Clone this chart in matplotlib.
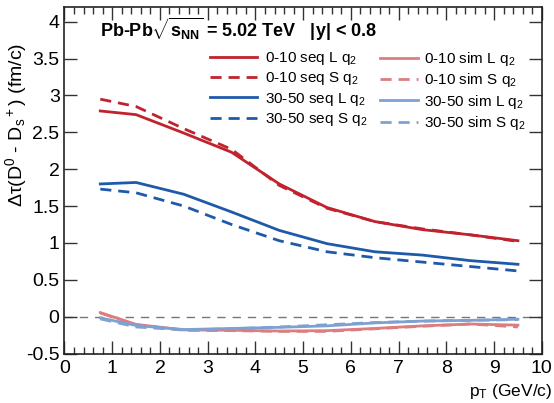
import matplotlib.pyplot as plt
from matplotlib.ticker import MultipleLocator, FuncFormatter

plt.rcParams['font.family'] = ['Liberation Sans', 'DejaVu Sans']
plt.rcParams['mathtext.fontset'] = 'custom'
plt.rcParams['mathtext.rm'] = 'Liberation Sans'
plt.rcParams['mathtext.it'] = 'Liberation Sans:italic'
plt.rcParams['mathtext.bf'] = 'Liberation Sans:bold'

# pT bin centres
pt = [0.75, 1.5, 2.5, 3.5, 4.5, 5.5, 6.5, 7.5, 8.5, 9.5]

seq_010_L = [2.79, 2.74, 2.49, 2.23, 1.80, 1.48, 1.29, 1.18, 1.11, 1.03]
seq_010_S = [2.95, 2.85, 2.55, 2.27, 1.78, 1.47, 1.29, 1.19, 1.11, 1.02]
seq_3050_L = [1.80, 1.82, 1.66, 1.42, 1.17, 0.99, 0.88, 0.835, 0.76, 0.71]
seq_3050_S = [1.73, 1.68, 1.50, 1.25, 1.03, 0.88, 0.80, 0.74, 0.68, 0.62]

sim_010_L = [0.055, -0.105, -0.18, -0.185, -0.195, -0.19, -0.16, -0.125, -0.10, -0.115]
sim_010_S = [0.05, -0.11, -0.185, -0.19, -0.20, -0.20, -0.165, -0.13, -0.10, -0.14]
sim_3050_L = [-0.016, -0.12, -0.175, -0.16, -0.145, -0.125, -0.085, -0.06, -0.05, -0.035]
sim_3050_S = [-0.03, -0.14, -0.18, -0.165, -0.14, -0.11, -0.08, -0.06, -0.05, -0.04]

red = '#c0232d'
blue = '#1f5aaa'
red_l = '#dd7d80'
blue_l = '#7fa1d2'
dash = (0, (4, 2.5))

fig = plt.figure(figsize=(5.54, 4.03), dpi=100)
ax = fig.add_axes([0.1164, 0.1228, 0.8616, 0.8598])

ax.axhline(0, color='#777777', lw=1, ls=(0, (6, 5)), zorder=1)

sim = []
sim += ax.plot(pt, sim_010_L, color=red_l, lw=2, label='0-10 sim L q$_2$')
sim += ax.plot(pt, sim_010_S, color=red_l, lw=2, ls=dash, label='0-10 sim S q$_2$')
sim += ax.plot(pt, sim_3050_L, color=blue_l, lw=2, label='30-50 sim L q$_2$')
sim += ax.plot(pt, sim_3050_S, color=blue_l, lw=2, ls=dash, label='30-50 sim S q$_2$')

seq = []
seq += ax.plot(pt, seq_010_L, color=red, lw=2, label='0-10 seq L q$_2$')
seq += ax.plot(pt, seq_010_S, color=red, lw=2, ls=dash, label='0-10 seq S q$_2$')
seq += ax.plot(pt, seq_3050_L, color=blue, lw=2, label='30-50 seq L q$_2$')
seq += ax.plot(pt, seq_3050_S, color=blue, lw=2, ls=dash, label='30-50 seq S q$_2$')

ax.set_xlim(0, 10)
ax.set_ylim(-0.5, 4.2)
ax.xaxis.set_major_locator(MultipleLocator(1))
ax.xaxis.set_minor_locator(MultipleLocator(0.2))
ax.yaxis.set_major_locator(MultipleLocator(0.5))
fmt = FuncFormatter(lambda v, p: '%g' % v)
ax.xaxis.set_major_formatter(fmt)
ax.yaxis.set_major_formatter(fmt)
ax.tick_params(which='both', direction='in', top=True, right=True,
               labelsize=14, width=1, color='#333333')
ax.tick_params(which='major', length=9.5)
ax.tick_params(which='minor', length=5)
ax.tick_params(axis='x', which='major', pad=5)
ax.tick_params(axis='y', which='major', pad=3.5)
for s in ax.spines.values():
    s.set_linewidth(1.2)
    s.set_color('#222222')

ax.set_xlabel('p$_{\\rm T}$ (GeV/c)', fontsize=12.5, ha='right')
ax.xaxis.set_label_coords(1.023, -0.083)
# y title placed in figure coordinates (ROOT style, near the top)
fig.text(0.006, 0.893, 'Δτ(D$^0$ - D$_{\\rm s}$$^+$) (fm/c)', fontsize=14,
         rotation=90, ha='left', va='top')

ax.text(0.074, 0.914,
        r'Pb-Pb$\sqrt{\mathbf{s}_{\mathbf{NN}}}$ = 5.02 TeV   |y| < 0.8',
        transform=ax.transAxes, fontsize=13, fontweight='bold', va='baseline')

leg1 = ax.legend(handles=seq, frameon=False, loc='upper left',
                 bbox_to_anchor=(0.305, 0.876), fontsize=11,
                 handlelength=3.1, handletextpad=0.5,
                 labelspacing=0.22, borderaxespad=0, borderpad=0)
ax.add_artist(leg1)
ax.legend(handles=sim, frameon=False, loc='upper left',
          bbox_to_anchor=(0.66, 0.876), fontsize=11,
          handlelength=2.5, handletextpad=0.4,
          labelspacing=0.22, borderaxespad=0, borderpad=0)

fig.savefig('out.png', dpi=100)
